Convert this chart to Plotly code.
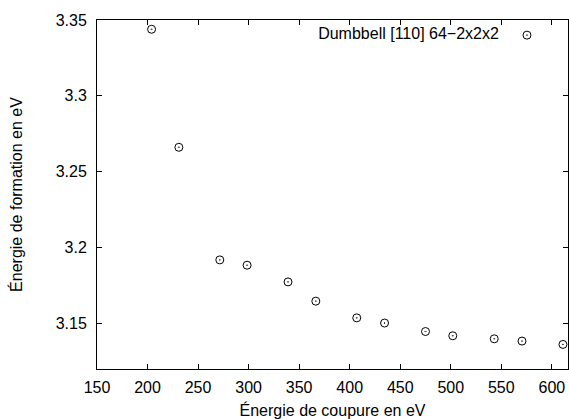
import plotly.graph_objects as go

# Data
cutoff_ev = [204, 231, 271.5, 298.5, 339, 366.5, 407, 434.5, 475, 502, 543, 570.5, 611]
formation_ev = [3.3439, 3.2661, 3.1919, 3.1884, 3.1774, 3.1647, 3.1537, 3.1503,
                3.1447, 3.1419, 3.1399, 3.1384, 3.1362]
series_name = "Dumbbell [110] 64\u22122x2x2"

x_ticks = [150, 200, 250, 300, 350, 400, 450, 500, 550, 600]
x_ticktext = ["150", "200", "250", "300", "350", "400", "450", "500", "550", "600"]
y_ticks = [3.15, 3.2, 3.25, 3.3, 3.35]
y_ticktext = ["3.15", "3.2", "3.25", "3.3", "3.35"]

FONT = "Liberation Sans, Arial, Helvetica, sans-serif"

fig = go.Figure()
fig.add_trace(go.Scatter(
    x=cutoff_ev, y=formation_ev, mode="markers", name=" ",
    marker=dict(symbol="circle-open-dot", size=8, color="black",
                line=dict(color="black", width=1)),
    showlegend=True, cliponaxis=False,
))

axis_common = dict(
    showline=True, linecolor="black", linewidth=1, mirror="ticks",
    ticks="inside", ticklen=5, tickcolor="black", tickwidth=1,
    showgrid=False, zeroline=False, automargin=False,
    tickfont=dict(family=FONT, size=16, color="black"),
)

fig.update_layout(
    width=569, height=419,
    margin=dict(l=97, r=1, t=20, b=50),
    paper_bgcolor="white", plot_bgcolor="white",
    font=dict(family=FONT, size=16, color="black"),
    xaxis=dict(range=[150, 616], tickvals=x_ticks, ticktext=x_ticktext,
               ticklabelstandoff=4,
               title=dict(text="\u00c9nergie de coupure en eV", standoff=9,
                          font=dict(family=FONT, size=16, color="black")),
               **axis_common),
    yaxis=dict(range=[3.12, 3.35], tickvals=y_ticks, ticktext=y_ticktext,
               ticklabelstandoff=6,
               title=dict(text="\u00c9nergie de formation en eV", standoff=29,
                          font=dict(family=FONT, size=16, color="black")),
               **axis_common),
    legend=dict(
        x=0.977, y=1.005, xanchor="right", yanchor="top",
        bgcolor="rgba(0,0,0,0)", borderwidth=0,
        title=dict(text=series_name, side="left",
                   font=dict(family=FONT, size=16, color="black")),
        font=dict(family=FONT, size=16, color="black"),
        itemwidth=30,
    ),
)

fig.write_html(
    "out.html",
    config={"displayModeBar": False},
    post_script="document.body.style.margin='0';document.body.style.overflow='hidden';",
)
